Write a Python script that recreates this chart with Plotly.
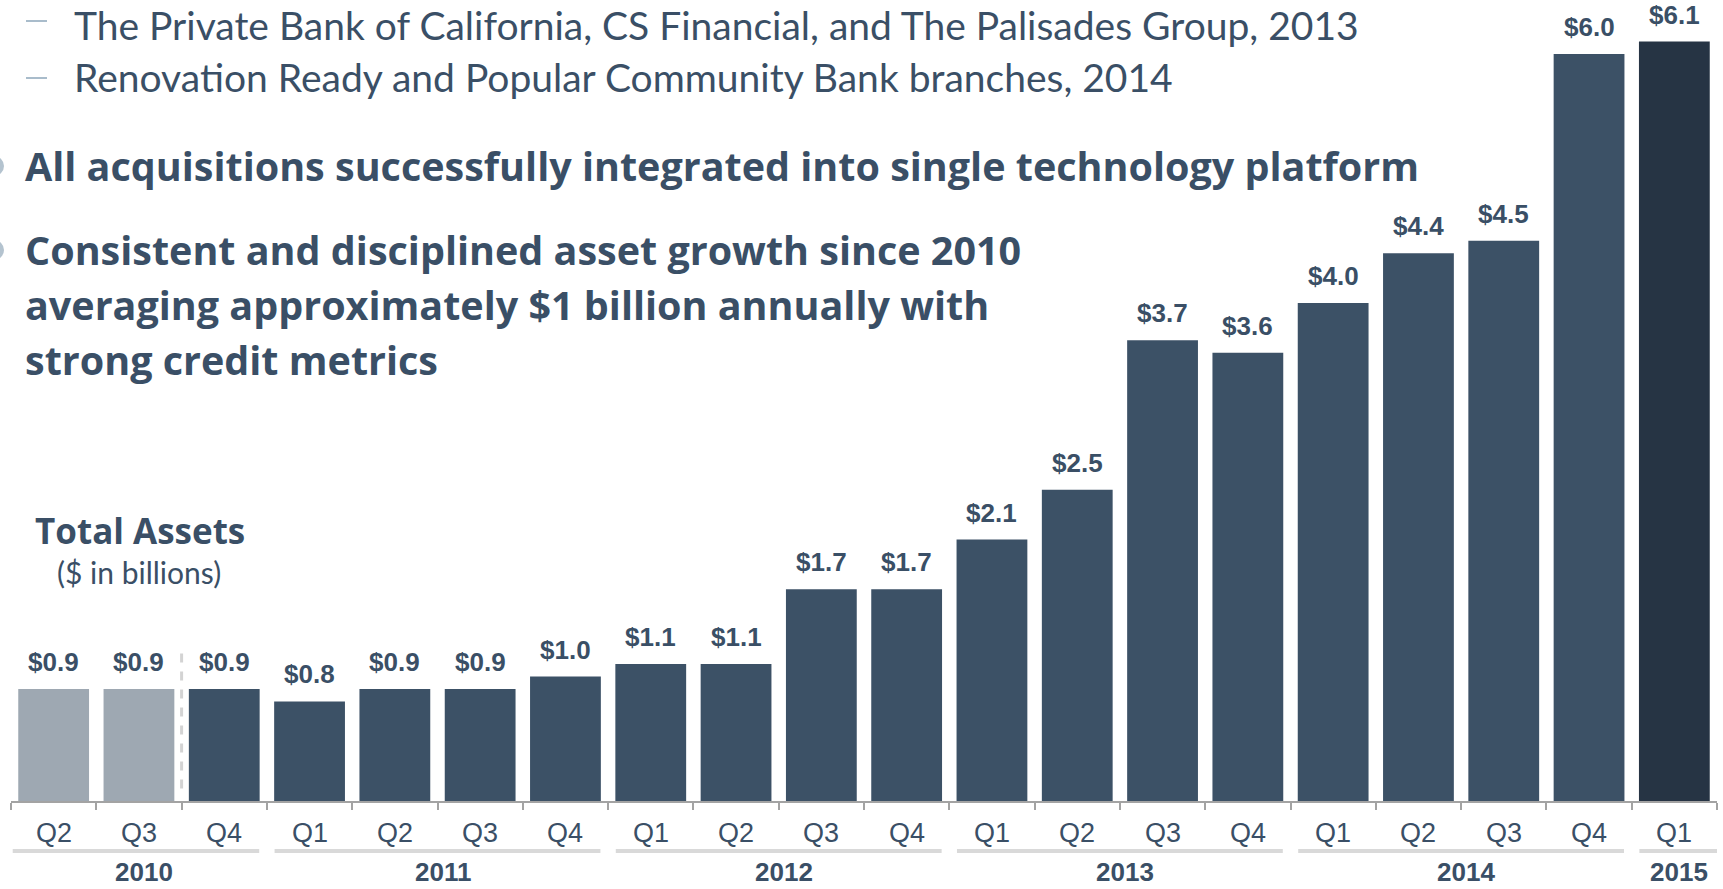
import plotly.graph_objects as go

# ---------------- data ----------------
quarters = ["Q2", "Q3", "Q4",
            "Q1", "Q2", "Q3", "Q4",
            "Q1", "Q2", "Q3", "Q4",
            "Q1", "Q2", "Q3", "Q4",
            "Q1", "Q2", "Q3", "Q4",
            "Q1"]
years = ["2010", "2010", "2010",
         "2011", "2011", "2011", "2011",
         "2012", "2012", "2012", "2012",
         "2013", "2013", "2013", "2013",
         "2014", "2014", "2014", "2014",
         "2015"]
total_assets = [0.9, 0.9, 0.9,
                0.8, 0.9, 0.9, 1.0,
                1.1, 1.1, 1.7, 1.7,
                2.1, 2.5, 3.7, 3.6,
                4.0, 4.4, 4.5, 6.0,
                6.1]
sub_bullets = [
    "The Private Bank of California, CS Financial, and The Palisades Group, 2013",
    "Renovation Ready and Popular Community Bank branches, 2014",
]
main_bullets = [
    ["All acquisitions successfully integrated into single technology platform"],
    ["Consistent and disciplined asset growth since 2010",
     "averaging approximately $1 billion annually with",
     "strong credit metrics"],
]
chart_title = "Total Assets"
chart_subtitle = "($ in billions)"

# ---------------- layout geometry ----------------
W, H = 1723, 889
ML, MR, MT, MB = 11, 6, 0, 88
PW, PH = W - ML - MR, H - MT - MB
PX_PER_UNIT = 124.5

def px(x):
    return (x - ML) / PW

def py(y):
    return (H - MB - y) / PH

TXT = "#3A4F66"
BAR = "#3C5166"
BAR_PRE = "#9EA8B2"
BAR_LAST = "#263444"
LIGHT = "#D9D9D9"
AXIS = "#A3A3A3"
BOLD_FONT = "Open Sans"

cats = [f"{q} {y}" for q, y in zip(quarters, years)]
n = len(cats)
colors = [BAR_PRE if i < 2 else (BAR_LAST if i == n - 1 else BAR) for i in range(n)]

fig = go.Figure()
fig.add_trace(go.Bar(
    x=cats, y=total_assets, width=0.83,
    marker=dict(color=colors, line=dict(width=0)),
    hoverinfo="x+y", showlegend=False,
))

annotations = []
shapes = []

# value labels
for c, v in zip(cats, total_assets):
    annotations.append(dict(
        x=c, y=v, xref="x", yref="y", text=f"${v:.1f}", showarrow=False,
        yanchor="bottom", xanchor="center", yshift=10,
        font=dict(family="Liberation Sans, Arial", size=26, color=TXT, weight="bold"),
    ))

# quarter labels
for i, q in enumerate(quarters):
    annotations.append(dict(
        x=i, y=py(833), xref="x", yref="paper", text=q, showarrow=False,
        yanchor="middle", xanchor="center",
        font=dict(family="Liberation Sans, Arial", size=27, color=TXT),
    ))

# year groups
groups = []
for i, yv in enumerate(years):
    if groups and groups[-1][0] == yv:
        groups[-1][2] = i
    else:
        groups.append([yv, i, i])
gap = 0.09
for k, (yv, a, b) in enumerate(groups):
    x0 = a - 0.5 + gap if k > 0 else -0.48
    x1 = b + 0.5 - gap if k < len(groups) - 1 else n - 0.5
    shapes.append(dict(type="line", xref="x", yref="paper", x0=x0, x1=x1,
                       y0=py(851), y1=py(851), line=dict(color=LIGHT, width=4)))
    annotations.append(dict(
        x=(a + b) / 2, y=py(889), xref="x", yref="paper", text=yv, showarrow=False,
        yanchor="bottom", xanchor="center", xshift=5,
        font=dict(family="Liberation Sans, Arial", size=26, color=TXT, weight="bold"),
    ))

# dashed divider between Q3 2010 and Q4 2010
shapes.append(dict(type="line", xref="x", yref="y", x0=1.5, x1=1.5,
                   y0=0.1, y1=1.19, line=dict(color="#D3D3D3", width=3, dash="dash")))

# sub bullets (top)
sub_y = [20, 77]
for j, (t, yy) in enumerate(zip(sub_bullets, sub_y)):
    shapes.append(dict(type="line", xref="paper", yref="paper",
                       x0=px(26), x1=px(47), y0=py(yy + 1), y1=py(yy + 1),
                       line=dict(color="#A9BCCB", width=2)))
    if j == 0:
        pos = dict(y=py(0), yanchor="top")
    else:
        pos = dict(y=py(yy), yanchor="middle")
    annotations.append(dict(
        x=px(72), xref="paper", yref="paper", text=t, showarrow=False,
        xanchor="left", font=dict(family="Lato", size=39, color=TXT), **pos,
    ))

# main bullets
main_y = [[166], [250, 305, 360]]
for lines, ys in zip(main_bullets, main_y):
    shapes.append(dict(type="circle", xref="paper", yref="paper",
                       x0=px(-16), x1=px(4), y0=py(ys[0] - 10), y1=py(ys[0] + 10),
                       fillcolor="#B4C3CF", line=dict(width=0)))
    for t, yy in zip(lines, ys):
        annotations.append(dict(
            x=px(23), y=py(yy), xref="paper", yref="paper", text=t, showarrow=False,
            xanchor="left", yanchor="middle",
            font=dict(family=BOLD_FONT, size=39.5, color=TXT, weight="bold"),
        ))

# chart title
annotations.append(dict(
    x=px(33), y=py(530), xref="paper", yref="paper", text=chart_title, showarrow=False,
    xanchor="left", yanchor="middle",
    font=dict(family=BOLD_FONT, size=35, color=TXT, weight="bold"),
))
annotations.append(dict(
    x=px(139), y=py(572), xref="paper", yref="paper", text=chart_subtitle, showarrow=False,
    xanchor="center", yanchor="middle",
    font=dict(family="Lato", size=30, color=TXT),
))

fig.update_layout(
    width=W, height=H,
    margin=dict(l=ML, r=MR, t=MT, b=MB, pad=0),
    paper_bgcolor="white", plot_bgcolor="white",
    bargap=0.17,
    xaxis=dict(
        type="category", categoryorder="array", categoryarray=cats,
        range=[-0.5, n - 0.5], tickson="boundaries",
        ticks="outside", ticklen=7, tickwidth=2, tickcolor=AXIS,
        showline=True, linecolor=AXIS, linewidth=2,
        showticklabels=False, showgrid=False, zeroline=False, fixedrange=True,
    ),
    yaxis=dict(
        range=[0, PH / PX_PER_UNIT], visible=False, showgrid=False,
        zeroline=False, fixedrange=True,
    ),
    annotations=annotations,
    shapes=shapes,
)

fig.write_html("out.html", config={"displayModeBar": False})
